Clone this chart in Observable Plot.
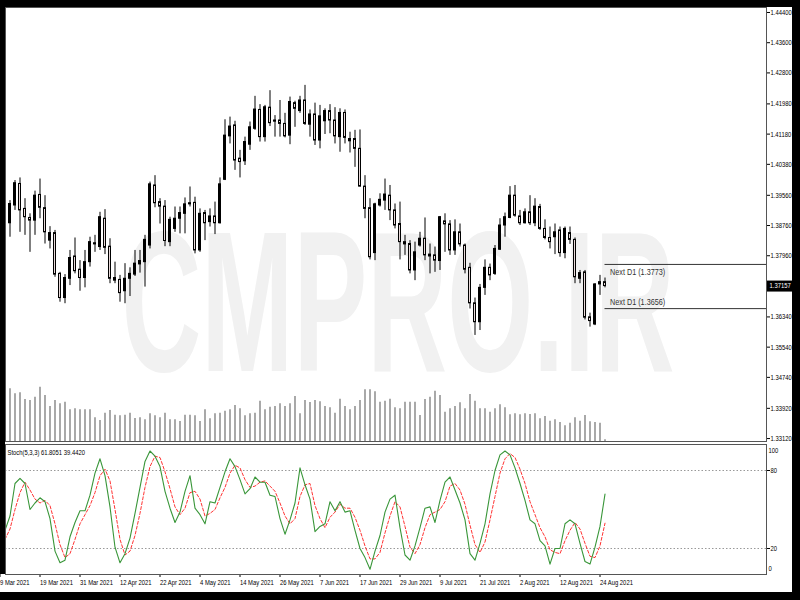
<!DOCTYPE html>
<html><head><meta charset="utf-8">
<script src="https://cdn.jsdelivr.net/npm/d3@7"></script>
<script src="https://cdn.jsdelivr.net/npm/@observablehq/plot@0.6"></script>
<style>
html,body{margin:0;padding:0;background:#000;}
#wrap{position:relative;width:800px;height:600px;background:#000;overflow:hidden;}
#paper{position:absolute;left:0;top:7px;width:792px;height:585px;background:#fff;}
.layer{position:absolute;left:0;}
#lstrip{position:absolute;left:0;top:7px;width:5px;height:567px;background:#000;}
</style></head><body>
<div id="wrap"><div id="paper"></div><div id="main" class="layer" style="top:0"></div><div id="vol" class="layer" style="top:385px"></div><div id="stoch" class="layer" style="top:444px"></div><div id="lstrip"></div></div>
<script>
// GBPUSD daily candles, 11 Mar 2021 .. 25 Aug 2021 (index 1..120)
const openP = [1.3882,1.3929,1.3986,1.3920,1.3896,1.3889,1.3957,1.3922,1.3836,1.3856,
1.3748,1.3684,1.3735,1.3794,1.3759,1.3737,1.3779,1.3826,1.3819,1.3894,
1.3820,1.3737,1.3732,1.3702,1.3735,1.3746,1.3773,1.3779,1.3823,1.3982,
1.3938,1.3926,1.3832,1.3867,1.3894,1.3907,1.3932,1.3936,1.3810,1.3909,
1.3885,1.3900,1.3882,1.3997,1.4112,1.4141,1.4053,1.4046,1.4090,1.4132,
1.4182,1.4110,1.4188,1.4151,1.4154,1.4145,1.4114,1.4200,1.4179,1.4207,
1.4143,1.4170,1.4101,1.4152,1.4179,1.4154,1.4110,1.4174,1.4099,1.4105,
1.4079,1.3979,1.3922,1.3803,1.3929,1.3942,1.3955,1.3916,1.3880,1.3832,
1.3827,1.3757,1.3823,1.3841,1.3799,1.3797,1.3782,1.3887,1.3879,1.3810,
1.3858,1.3823,1.3764,1.3670,1.3620,1.3711,1.3764,1.3748,1.3812,1.3876,
1.3896,1.3955,1.3900,1.3882,1.3911,1.3882,1.3925,1.3867,1.3843,1.3845,
1.3863,1.3803,1.3856,1.3838,1.3735,1.3752,1.3633,1.3614,1.3720,1.3726];
const highP = [1.3942,1.3995,1.4002,1.3947,1.3907,1.3967,1.3999,1.3955,1.3873,1.3863,
1.3752,1.3746,1.3810,1.3843,1.3783,1.3810,1.3845,1.3850,1.3911,1.3918,
1.3841,1.3779,1.3744,1.3775,1.3764,1.3810,1.3810,1.3850,1.3991,1.4008,
1.3947,1.3942,1.3898,1.3925,1.3925,1.3949,1.3978,1.3951,1.3920,1.3916,
1.3920,1.3938,1.4002,1.4156,1.4163,1.4152,1.4075,1.4110,1.4150,1.4218,
1.4196,1.4194,1.4233,1.4167,1.4207,1.4173,1.4216,1.4205,1.4218,1.4247,
1.4182,1.4200,1.4194,1.4185,1.4196,1.4188,1.4185,1.4182,1.4123,1.4128,
1.4129,1.4008,1.3947,1.3935,1.3960,1.3999,1.3982,1.3933,1.3938,1.3850,
1.3836,1.3832,1.3858,1.3896,1.3827,1.3819,1.3900,1.3907,1.3889,1.3891,
1.3880,1.3827,1.3776,1.3684,1.3720,1.3785,1.3774,1.3823,1.3894,1.3909,
1.3979,1.3982,1.3916,1.3920,1.3955,1.3947,1.3932,1.3891,1.3872,1.3880,
1.3872,1.3872,1.3872,1.3843,1.3757,1.3757,1.3644,1.3722,1.3744,1.3737];
const lowP = [1.3845,1.3916,1.3858,1.3850,1.3805,1.3850,1.3894,1.3827,1.3814,1.3739,
1.3673,1.3669,1.3717,1.3748,1.3702,1.3711,1.3766,1.3805,1.3810,1.3799,
1.3722,1.3722,1.3673,1.3669,1.3688,1.3741,1.3750,1.3713,1.3814,1.3923,
1.3880,1.3820,1.3820,1.3858,1.3854,1.3854,1.3925,1.3801,1.3805,1.3836,
1.3872,1.3852,1.3880,1.3995,1.4092,1.4022,1.4002,1.4035,1.4075,1.4128,
1.4097,1.4097,1.4138,1.4110,1.4110,1.4108,1.4090,1.4136,1.4173,1.4141,
1.4110,1.4088,1.4079,1.4117,1.4119,1.4092,1.4070,1.4092,1.4068,1.4030,
1.3978,1.3894,1.3785,1.3783,1.3925,1.3916,1.3889,1.3867,1.3785,1.3797,
1.3748,1.3730,1.3819,1.3783,1.3748,1.3752,1.3757,1.3805,1.3797,1.3797,
1.3819,1.3748,1.3655,1.3585,1.3598,1.3691,1.3730,1.3744,1.3810,1.3845,
1.3894,1.3898,1.3876,1.3880,1.3876,1.3873,1.3863,1.3838,1.3814,1.3799,
1.3792,1.3788,1.3826,1.3722,1.3722,1.3626,1.3607,1.3611,1.3691,1.3711];
const closeP = [1.3933,1.3988,1.3916,1.3898,1.3889,1.3955,1.3923,1.3858,1.3856,1.3746,
1.3684,1.3737,1.3790,1.3755,1.3737,1.3779,1.3832,1.3829,1.3898,1.3817,
1.3735,1.3730,1.3697,1.3735,1.3748,1.3775,1.3782,1.3838,1.3985,1.3935,
1.3926,1.3835,1.3891,1.3894,1.3909,1.3932,1.3935,1.3810,1.3907,1.3882,
1.3900,1.3882,1.3985,1.4114,1.4138,1.4048,1.4044,1.4097,1.4136,1.4183,
1.4110,1.4189,1.4147,1.4154,1.4145,1.4112,1.4203,1.4185,1.4207,1.4145,
1.4170,1.4101,1.4165,1.4179,1.4154,1.4112,1.4174,1.4108,1.4105,1.4079,
1.3979,1.3920,1.3792,1.3932,1.3944,1.3958,1.3916,1.3876,1.3832,1.3826,
1.3757,1.3805,1.3841,1.3797,1.3794,1.3783,1.3898,1.3879,1.3810,1.3858,
1.3826,1.3759,1.3670,1.3620,1.3711,1.3764,1.3744,1.3814,1.3876,1.3898,
1.3955,1.3902,1.3882,1.3911,1.3882,1.3926,1.3867,1.3843,1.3832,1.3858,
1.3803,1.3867,1.3838,1.3739,1.3750,1.3632,1.3623,1.3720,1.3726,1.37157];
// tick volumes (thousands), index 1..120
const tickVolume = [158,143,146,126,123,133,163,138,105,123,113,118,95,98,95,95,95,71,63,85,
93,79,77,79,85,69,71,65,83,77,71,85,65,65,60,79,79,77,60,95,
68,83,85,91,95,108,98,77,83,85,121,95,103,105,113,105,113,135,83,123,
117,123,119,105,101,85,127,105,95,105,123,155,155,149,118,121,127,101,98,
118,118,118,78,126,133,151,138,88,98,105,116,98,141,121,98,98,88,98,110,
101,80,83,80,83,81,83,68,75,61,65,57,47,55,71,61,78,59,57,55,5];
// Stochastic (5,3,3), index 0..120
const stochK = [34,45,70,74,70,50,55,59,56,43,18,9,11,29,40,49,49,61,78,89,76,52,21,9,16,28,47,67,87,95,91,
83,64,51,40,48,64,76,51,46,39,56,55,67,79,89,83,73,62,66,75,71,71,61,60,43,31,42,55,82,69,
58,33,37,39,56,49,56,48,49,34,20,13,4,18,30,48,58,61,36,15,11,22,36,51,52,40,57,71,75,65,
55,42,16,11,24,39,62,80,92,95,92,82,70,57,42,39,26,22,8,20,20,39,42,39,24,10,8,21,37,61.8051];
const stochD = [27,35,50,63,71,65,58,55,57,53,39,23,13,16,27,39,46,53,63,76,81,
72,50,27,15,18,30,47,67,83,91,90,79,66,52,46,51,63,64,58,45,
47,50,59,67,78,84,82,73,67,68,71,72,68,64,55,45,39,43,60,69,
70,53,43,36,44,48,54,51,51,44,34,22,12,12,17,32,45,56,52,37,
21,16,23,36,46,48,50,56,68,70,65,54,38,23,17,25,42,60,78,89,
93,90,81,70,56,46,36,29,19,17,16,26,34,40,35,24,14,13,22,39.442];
const priceTicks = [1.444,1.436,1.428,1.4198,1.4118,1.4038,1.3956,1.3876,1.3796,1.3634,1.3554,1.3474,1.3392,1.3312];
const dateIdx = [-1,7,15,23,31,39,47,55,63,71,79,87,95,103,111,119];
const dateLabels = ["9 Mar 2021","19 Mar 2021","31 Mar 2021","12 Apr 2021","22 Apr 2021","4 May 2021","14 May 2021","26 May 2021","7 Jun 2021","17 Jun 2021","29 Jun 2021","9 Jul 2021","21 Jul 2021","2 Aug 2021","12 Aug 2021","24 Aug 2021"];
const nextD1 = [1.3773, 1.3656];
const lastPrice = 1.37157;
const watermark = "CMPRO.IR";

const xDomain = [0.1, 152.3];
const font = '"Liberation Sans", Arial, sans-serif';
const candles = openP.map((o, j) => ({i: j + 1, o, h: highP[j], l: lowP[j], c: closeP[j]}));
const bull = candles.filter(d => d.c > d.o);
const bear = candles.filter(d => d.c <= d.o);
const volData = tickVolume.map((v, j) => ({i: j + 1, v}));
const stochData = stochK.map((k, j) => ({i: j, k, d: stochD[j]}));

const main = Plot.plot({
  width: 800, height: 444, marginTop: 7, marginBottom: 3, marginLeft: 5, marginRight: 34,
  style: {background: "transparent", fontFamily: font, fontSize: "7.5px", color: "#000"},
  x: {domain: xDomain, axis: null},
  y: {domain: [1.33042, 1.44532]},
  marks: [
    Plot.text([watermark], {frameAnchor: "middle", dx: 12, dy: 82, fontSize: 200, fontWeight: "bold", fill: "#f1f1f1"}),
    Plot.axisY({anchor: "right", ticks: priceTicks, tickFormat: d => d.toFixed(5), tickSize: 3, tickPadding: 1}),
    Plot.ruleX(candles, {x: "i", y1: "l", y2: "h", stroke: "#000", strokeWidth: 1, clip: true}),
    Plot.rect(bear, {x1: d => d.i - 0.2, x2: d => d.i + 0.2, y1: "o", y2: "c", fill: "#e8dada", stroke: "#000", strokeWidth: 1, clip: true}),
    Plot.rect(bull, {x1: d => d.i - 0.2, x2: d => d.i + 0.2, y1: "o", y2: "c", fill: "#000", stroke: "#000", strokeWidth: 1, clip: true}),
    Plot.ruleY(nextD1, {y: d => d, x1: 120, x2: xDomain[1], stroke: "#333", strokeWidth: 1}),
    Plot.text([nextD1[0]], {x: 121, y: d => d, text: d => `Next D1 (${d.toFixed(4)})`, dy: 8, textAnchor: "start", fill: "#333", fontSize: 9.3}),
    Plot.text([nextD1[1]], {x: 121, y: d => d, text: d => `Next D1 (${d.toFixed(4)})`, dy: -7, textAnchor: "start", fill: "#333", fontSize: 9.3}),
    Plot.ruleY([lastPrice], {y: d => d, x1: xDomain[1] + 0.2, x2: xDomain[1] + 5.2, stroke: "#000", strokeWidth: 11}),
    Plot.text([lastPrice], {x: xDomain[1], y: d => d, text: d => d.toFixed(5), dx: 3, textAnchor: "start", fill: "#fff"}),
    Plot.frame({stroke: "#555"})
  ]
});
document.getElementById("main").appendChild(main);

const vol = Plot.plot({
  width: 800, height: 56, marginTop: 0, marginBottom: 0, marginLeft: 5, marginRight: 34,
  style: {background: "transparent"},
  x: {domain: xDomain, axis: null},
  y: {domain: [0, 168], axis: null},
  marks: [Plot.ruleX(volData, {x: "i", y1: 0, y2: "v", stroke: "#7a7a7a", strokeWidth: 1.3})]
});
document.getElementById("vol").appendChild(vol);

const stochLabel = `Stoch(5,3,3) ${stochK[stochK.length - 1].toFixed(4)} ${stochD[stochD.length - 1].toFixed(4)}`;
const st = Plot.plot({
  width: 800, height: 156, marginTop: 0, marginBottom: 26, marginLeft: 5, marginRight: 34,
  style: {background: "transparent", fontFamily: font, fontSize: "7.5px", color: "#000"},
  x: {domain: xDomain},
  y: {domain: [0, 100]},
  marks: [
    Plot.ruleY([80, 20], {stroke: "#999", strokeDasharray: "1.5,2"}),
    Plot.line(stochData, {x: "i", y: "d", stroke: "#ff3434", strokeDasharray: "3,2", strokeWidth: 1, clip: true}),
    Plot.line(stochData, {x: "i", y: "k", stroke: "#399639", strokeWidth: 1.1, clip: true}),
    Plot.axisY({anchor: "right", ticks: [80, 20], tickSize: 3, tickPadding: 1}),
    Plot.text([100], {x: xDomain[1], y: d => d, text: d => String(d), dx: 2, dy: 6, textAnchor: "start"}),
    Plot.text([0], {x: xDomain[1], y: d => d, text: d => String(d), dx: 2, dy: -6, textAnchor: "start"}),
    Plot.axisX({anchor: "bottom", ticks: dateIdx, tickFormat: d => dateLabels[dateIdx.indexOf(d)], tickSize: 3, tickPadding: 2, textAnchor: "start", dx: 0}),
    Plot.text([stochLabel], {frameAnchor: "top-left", dx: 2, dy: 5, textAnchor: "start", fill: "#000"}),
    Plot.frame({stroke: "#555"})
  ]
});
document.getElementById("stoch").appendChild(st);

// MT4 fonts are narrower than Arial: compress text horizontally
document.querySelectorAll("#wrap svg text").forEach(t => {
  if (t.textContent === watermark) {
    t.setAttribute("textLength", 553);
    t.setAttribute("lengthAdjust", "spacingAndGlyphs");
    return;
  }
  const w = t.getComputedTextLength();
  if (w > 0) {
    t.setAttribute("textLength", (w * 0.78).toFixed(1));
    t.setAttribute("lengthAdjust", "spacingAndGlyphs");
  }
});
</script>
</body></html>
